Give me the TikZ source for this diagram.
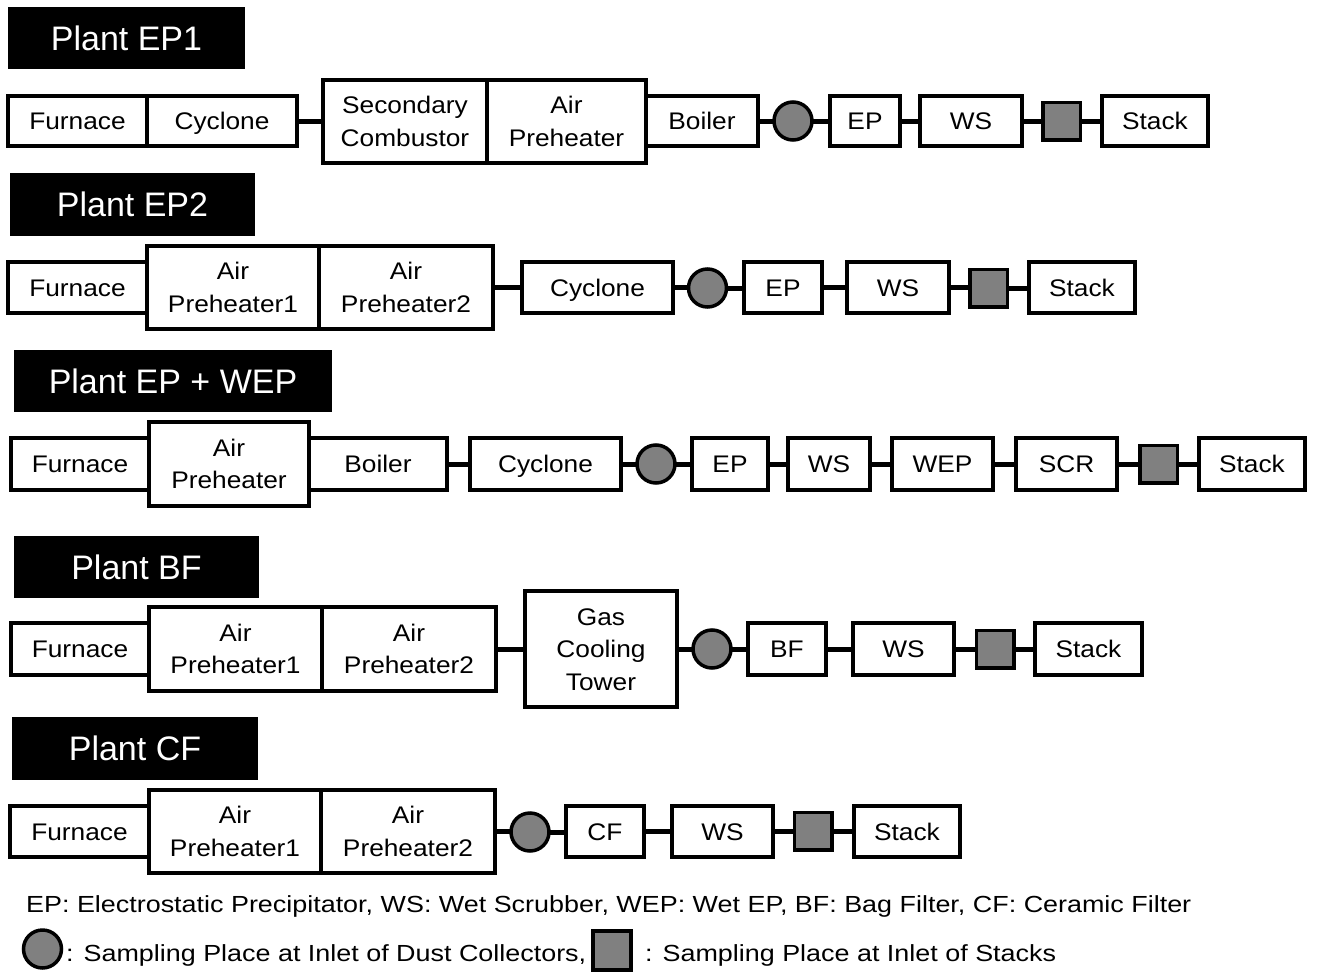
\documentclass[tikz,border=0pt]{standalone}
\usepackage{fontspec}
\setmainfont{Liberation Sans}
\newfontfamily\boxfont{Liberation Sans}[FakeStretch=1.095]
\newfontfamily\legfont{Liberation Sans}[FakeStretch=1.155]
\definecolor{sgray}{HTML}{808080}
\tikzset{
 box/.style={draw, line width=3.2pt, fill=white, inner sep=0pt, outer sep=0pt, align=center,
   font=\boxfont\fontsize{24}{32.5}\selectfont, text height=17.2pt, text depth=0pt},
 two/.style={box, text height=49.7pt},
 three/.style={box, text height=82.2pt},
 title/.style={fill=black, text=white, inner sep=0pt, outer sep=0pt, font=\fontsize{34}{40}\selectfont,
   text height=24.3pt, text depth=0pt},
 samp/.style={circle, draw, line width=3.5pt, fill=sgray, minimum size=38pt, inner sep=0pt, outer sep=0pt},
 sqr/.style={rectangle, draw, line width=3.5pt, fill=sgray, minimum size=37.5pt, inner sep=0pt, outer sep=0pt},
 conn/.style={line width=5pt},
 legend/.style={anchor=base west, inner sep=0pt, font=\legfont\fontsize{23.3}{28}\selectfont},
}
\newcommand{\bx}[7][box]{\node[#1, minimum width={(#5)-(#3)}, minimum height={(#6)-(#4)}] (#2) at ({((#3)+(#5))/2},{((#4)+(#6))/2}) {#7};}
\newcommand{\cn}[2]{\draw[conn] (#1.east) -- (#1.east -| #2.west);}
\begin{document}
\begin{tikzpicture}[x=1pt,y=-1pt]
\useasboundingbox (0,0) rectangle (1320,974);
% Row 1
\bx[title]{t1}{8}{7}{245}{69}{Plant EP1}
\bx{f1}{8}{96}{147}{146}{Furnace}
\bx{c1}{147}{96}{297}{146}{Cyclone}
\bx[two]{sc1}{323}{80}{487}{163}{Secondary\\Combustor}
\bx[two]{ap1}{487}{80}{646}{163}{Air\\Preheater}
\bx{bo1}{646}{96}{758}{146}{Boiler}
\node[samp] (s1) at (793,121) {};
\bx{ep1}{830}{96}{900}{146}{EP}
\bx{ws1}{920}{96}{1022}{146}{WS}
\node[sqr] (q1) at (1061.5,121) {};
\bx{st1}{1102}{96}{1208}{146}{Stack}
\cn{c1}{sc1}\cn{bo1}{s1}\cn{s1}{ep1}\cn{ep1}{ws1}\cn{ws1}{q1}\cn{q1}{st1}
% Row 2
\bx[title]{t2}{10}{173}{255}{236}{Plant EP2}
\bx{f2}{8}{262}{147}{313}{Furnace}
\bx[two]{a21}{147}{246}{319}{329}{Air\\Preheater1}
\bx[two]{a22}{319}{246}{493}{329}{Air\\Preheater2}
\bx{cy2}{522}{262}{673}{313}{Cyclone}
\node[samp] (s2) at (707.5,288) {};
\bx{ep2}{744}{262}{822}{313}{EP}
\bx{ws2}{847}{262}{949}{313}{WS}
\node[sqr] (q2) at (988.5,288) {};
\bx{st2}{1029}{262}{1135}{313}{Stack}
\cn{a22}{cy2}\cn{cy2}{s2}\cn{s2}{ep2}\cn{ep2}{ws2}\cn{ws2}{q2}\cn{q2}{st2}
% Row 3
\bx[title]{t3}{14}{350}{332}{412}{Plant EP + WEP}
\bx{f3}{11}{438}{149}{490}{Furnace}
\bx[two]{ap3}{149}{422}{309}{506}{Air\\Preheater}
\bx{bo3}{309}{438}{447}{490}{Boiler}
\bx{cy3}{470}{438}{621}{490}{Cyclone}
\node[samp] (s3) at (656,464) {};
\bx{ep3}{692}{438}{768}{490}{EP}
\bx{ws3}{788}{438}{870}{490}{WS}
\bx{wep3}{892}{438}{993}{490}{WEP}
\bx{scr3}{1016}{438}{1117}{490}{SCR}
\node[sqr] (q3) at (1158.5,464) {};
\bx{st3}{1199}{438}{1305}{490}{Stack}
\cn{bo3}{cy3}\cn{cy3}{s3}\cn{s3}{ep3}\cn{ep3}{ws3}\cn{ws3}{wep3}\cn{wep3}{scr3}\cn{scr3}{q3}\cn{q3}{st3}
% Row 4
\bx[title]{t4}{14}{536}{259}{598}{Plant BF}
\bx{f4}{11}{623}{149}{675}{Furnace}
\bx[two]{a41}{149}{607}{322}{691}{Air\\Preheater1}
\bx[two]{a42}{322}{607}{496}{691}{Air\\Preheater2}
\bx[three]{g4}{525}{591}{677}{707}{Gas\\Cooling\\Tower}
\node[samp] (s4) at (712,649) {};
\bx{bf4}{748}{623}{826}{675}{BF}
\bx{ws4}{853}{623}{954}{675}{WS}
\node[sqr] (q4) at (995,649) {};
\bx{st4}{1035}{623}{1142}{675}{Stack}
\cn{a42}{g4}\cn{g4}{s4}\cn{s4}{bf4}\cn{bf4}{ws4}\cn{ws4}{q4}\cn{q4}{st4}
% Row 5
\bx[title]{t5}{12}{717}{258}{780}{Plant CF}
\bx{f5}{10}{806}{149}{857}{Furnace}
\bx[two]{a51}{149}{790}{321}{873}{Air\\Preheater1}
\bx[two]{a52}{321}{790}{495}{873}{Air\\Preheater2}
\node[samp] (s5) at (530,832) {};
\bx{cf5}{566}{806}{644}{857}{CF}
\bx{ws5}{672}{806}{773}{857}{WS}
\node[sqr] (q5) at (813,831) {};
\bx{st5}{854}{806}{960}{857}{Stack}
\cn{a52}{s5}\cn{s5}{cf5}\cn{cf5}{ws5}\cn{ws5}{q5}\cn{q5}{st5}
% Legend
\node[legend] (leg1) at (26,912) {EP: Electrostatic Precipitator, WS: Wet Scrubber, WEP: Wet EP, BF: Bag Filter, CF: Ceramic Filter};
\node[samp] (lc) at (42.5,949) {};
\node[legend] (leg2) at (66,961) {: Sampling Place at Inlet of Dust Collectors,};
\node[sqr, minimum width=38pt, minimum height=39pt] (lq) at (612,950.5) {};
\node[legend] (leg3) at (645,961) {: Sampling Place at Inlet of Stacks};
\end{tikzpicture}
\end{document}
